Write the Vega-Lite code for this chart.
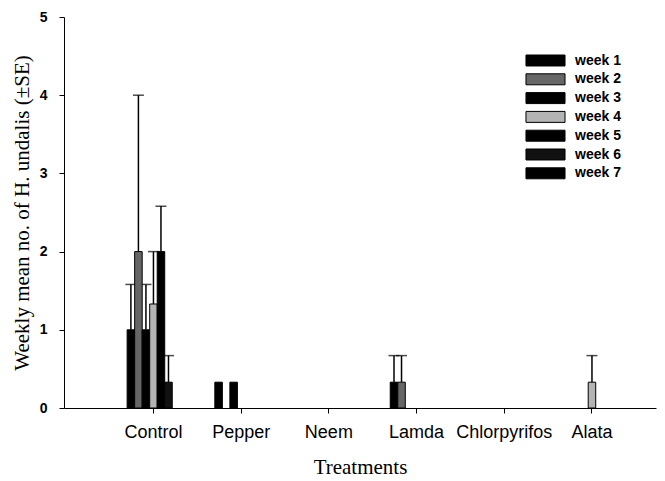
{
  "$schema": "https://vega.github.io/schema/vega-lite/v6.json",
  "width": 592,
  "height": 391,
  "autosize": {"type": "none"},
  "padding": {"left": 64, "top": 17, "right": 9, "bottom": 73},
  "background": "white",
  "config": {
    "view": {"stroke": null},
    "axis": {"domainColor": "#000", "tickColor": "#000", "grid": false, "labelColor": "#000", "titleColor": "#000"}
  },
  "data": {
    "values": [
      {"treatment": "Control", "week": "week 1", "mean": 1, "upper": 1.58},
      {"treatment": "Control", "week": "week 2", "mean": 2, "upper": 4},
      {"treatment": "Control", "week": "week 3", "mean": 1, "upper": 1.58},
      {"treatment": "Control", "week": "week 4", "mean": 1.33, "upper": 2},
      {"treatment": "Control", "week": "week 5", "mean": 2, "upper": 2.58},
      {"treatment": "Control", "week": "week 6", "mean": 0.33, "upper": 0.67},
      {"treatment": "Control", "week": "week 7", "mean": 0, "upper": null},
      {"treatment": "Pepper", "week": "week 1", "mean": 0.33, "upper": null},
      {"treatment": "Pepper", "week": "week 2", "mean": 0, "upper": null},
      {"treatment": "Pepper", "week": "week 3", "mean": 0.33, "upper": null},
      {"treatment": "Pepper", "week": "week 4", "mean": 0, "upper": null},
      {"treatment": "Pepper", "week": "week 5", "mean": 0, "upper": null},
      {"treatment": "Pepper", "week": "week 6", "mean": 0, "upper": null},
      {"treatment": "Pepper", "week": "week 7", "mean": 0, "upper": null},
      {"treatment": "Neem", "week": "week 1", "mean": 0, "upper": null},
      {"treatment": "Neem", "week": "week 2", "mean": 0, "upper": null},
      {"treatment": "Neem", "week": "week 3", "mean": 0, "upper": null},
      {"treatment": "Neem", "week": "week 4", "mean": 0, "upper": null},
      {"treatment": "Neem", "week": "week 5", "mean": 0, "upper": null},
      {"treatment": "Neem", "week": "week 6", "mean": 0, "upper": null},
      {"treatment": "Neem", "week": "week 7", "mean": 0, "upper": null},
      {"treatment": "Lamda", "week": "week 1", "mean": 0.33, "upper": 0.67},
      {"treatment": "Lamda", "week": "week 2", "mean": 0.33, "upper": 0.67},
      {"treatment": "Lamda", "week": "week 3", "mean": 0, "upper": null},
      {"treatment": "Lamda", "week": "week 4", "mean": 0, "upper": null},
      {"treatment": "Lamda", "week": "week 5", "mean": 0, "upper": null},
      {"treatment": "Lamda", "week": "week 6", "mean": 0, "upper": null},
      {"treatment": "Lamda", "week": "week 7", "mean": 0, "upper": null},
      {"treatment": "Chlorpyrifos", "week": "week 1", "mean": 0, "upper": null},
      {"treatment": "Chlorpyrifos", "week": "week 2", "mean": 0, "upper": null},
      {"treatment": "Chlorpyrifos", "week": "week 3", "mean": 0, "upper": null},
      {"treatment": "Chlorpyrifos", "week": "week 4", "mean": 0, "upper": null},
      {"treatment": "Chlorpyrifos", "week": "week 5", "mean": 0, "upper": null},
      {"treatment": "Chlorpyrifos", "week": "week 6", "mean": 0, "upper": null},
      {"treatment": "Chlorpyrifos", "week": "week 7", "mean": 0, "upper": null},
      {"treatment": "Alata", "week": "week 1", "mean": 0, "upper": null},
      {"treatment": "Alata", "week": "week 2", "mean": 0, "upper": null},
      {"treatment": "Alata", "week": "week 3", "mean": 0, "upper": null},
      {"treatment": "Alata", "week": "week 4", "mean": 0.33, "upper": 0.67},
      {"treatment": "Alata", "week": "week 5", "mean": 0, "upper": null},
      {"treatment": "Alata", "week": "week 6", "mean": 0, "upper": null},
      {"treatment": "Alata", "week": "week 7", "mean": 0, "upper": null}
    ]
  },
  "encoding": {
    "x": {
      "field": "treatment", "type": "nominal",
      "scale": {"domain": ["Control", "Pepper", "Neem", "Lamda", "Chlorpyrifos", "Alata"], "paddingInner": 0.4, "paddingOuter": 0.575, "align": 0.626},
      "axis": {
        "title": "Treatments", "labelAngle": 0, "labelFont": "Liberation Sans", "labelFontSize": 18,
        "labelPadding": 10, "tickSize": 5, "titleFont": "Liberation Serif", "titleFontSize": 21,
        "titleFontWeight": "normal", "titlePadding": 15
      }
    },
    "xOffset": {"field": "week", "type": "nominal", "scale": {"domain": ["week 1", "week 2", "week 3", "week 4", "week 5", "week 6", "week 7"]}}
  },
  "layer": [
    {
      "transform": [{"filter": "datum.upper != null"}],
      "mark": {"type": "rule", "color": "#000", "strokeWidth": 1.5},
      "encoding": {
        "y": {"field": "mean", "type": "quantitative"},
        "y2": {"field": "upper"}
      }
    },
    {
      "transform": [{"filter": "datum.upper != null"}],
      "mark": {"type": "tick", "color": "#000", "thickness": 1.5, "size": 11},
      "encoding": {
        "y": {"field": "upper", "type": "quantitative"}
      }
    },
    {
      "transform": [{"filter": "datum.mean > 0"}],
      "mark": {"type": "bar", "stroke": "#000", "strokeWidth": 1},
      "encoding": {
        "y": {
          "field": "mean", "type": "quantitative",
          "scale": {"domain": [0, 5], "nice": false},
          "axis": {
            "title": "Weekly mean no. of H. undalis (±SE)", "values": [0, 1, 2, 3, 4, 5], "format": "d",
            "labelFont": "Liberation Sans", "labelFontSize": 14, "labelFontWeight": "bold", "labelPadding": 12, "tickSize": 5,
            "titleFont": "Liberation Serif", "titleFontSize": 21, "titleFontWeight": "normal", "titlePadding": 7
          }
        },
        "color": {
          "field": "week", "type": "nominal",
          "scale": {
            "domain": ["week 1", "week 2", "week 3", "week 4", "week 5", "week 6", "week 7"],
            "range": ["#000000", "#666666", "#000000", "#b4b4b4", "#000000", "#111111", "#000000"]
          },
          "legend": {
            "title": null, "orient": "none", "legendX": 472, "legendY": 34,
            "symbolType": "M-2.17,-0.61L2.17,-0.61L2.17,0.61L-2.17,0.61Z", "symbolSize": 324,
            "symbolStrokeColor": "#000", "symbolStrokeWidth": 1, "symbolOpacity": 1,
            "labelFont": "Liberation Sans", "labelFontSize": 14, "labelFontWeight": "bold", "labelColor": "#000",
            "labelOffset": 20, "rowPadding": 1.8
          }
        }
      }
    }
  ]
}
